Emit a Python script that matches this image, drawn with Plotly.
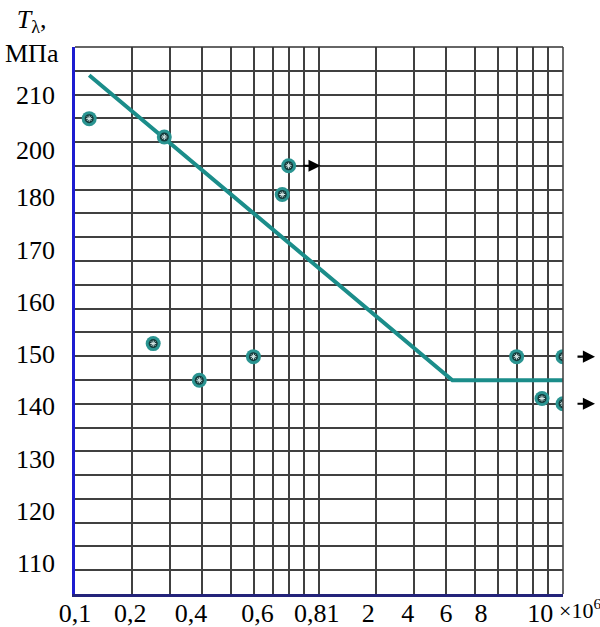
import numpy as np
import plotly.graph_objects as go

# ---------------- data ----------------
# fatigue test points: number of cycles (x10^6) and stress T_lambda (MPa)
N_POINTS = [0.125, 0.285, 0.80, 0.76, 0.256, 0.393, 0.596, 7.0, 10.0, 8.6, 10.0]
T_POINTS = [195.0, 191.5, 186.0, 180.5, 152.0, 145.0, 149.5, 149.5, 149.5, 141.5, 140.5]
RUNOUT = [False, False, True, False, False, False, False, False, True, False, True]

# fatigue curve
N_LINE = [0.125, 4.23, 10.0]
T_LINE = [203.3, 145.0, 145.0]

# grid values of the cycle axis (x10^6)
GRID_N = [0.1, 0.2, 0.3, 0.4, 0.5, 0.6, 0.7, 0.8, 0.9, 1.0,
          2.0, 3.0, 4.0, 5.0, 6.0, 7.0, 8.0, 9.0, 10.0]

X_TICK_TEXT = ["0,1", "0,2", "0,4", "0,6", "0,81", "2", "4", "6", "8", "10"]
Y_TICK_TEXT = ["210", "200", "180", "170", "160", "150", "140", "130", "120", "110"]

# ---------------- axis scale (pseudo-logarithmic, as drawn) ----------------
MANTISSA = [1, 2, 3, 4, 5, 6, 7, 8, 9, 10]
FRAC = [0.0, 0.2325, 0.3895, 0.5185, 0.641, 0.735, 0.81, 0.8755, 0.9395, 1.0]


def to_u(n):
    n = np.asarray(n, dtype=float)
    d = np.floor(np.log10(n / 0.1) + 1e-9)
    d = np.minimum(d, 1)
    m = n / (0.1 * 10 ** d)
    return d + np.interp(m, MANTISSA, FRAC)


# layout-only tick label placements (axis units)
X_LABEL_U = [0.0, 0.2268, 0.4757, 0.7484, 0.9912, 1.2016, 1.3635, 1.5206, 1.6641, 1.9069]
Y_LABEL_V = [199.5, 189.1, 180, 170, 160, 150, 140, 130, 120, 110]
Y_MIN, Y_MAX = 104.13, 208.70
Y_GRID_STEP = (Y_MAX - Y_MIN) / 23

TEAL = "#1b8d8a"
FONT = "Liberation Serif, Times New Roman, serif"
FS = 26

xu = to_u(N_POINTS)
fig = go.Figure()

fig.add_trace(go.Scatter(
    x=to_u(N_LINE), y=T_LINE, mode="lines",
    line=dict(color=TEAL, width=4), hoverinfo="skip", showlegend=False))

fig.add_trace(go.Scatter(
    x=xu, y=T_POINTS, mode="markers",
    marker=dict(size=15, color="#2a9491", line=dict(width=0)),
    showlegend=False))
fig.add_trace(go.Scatter(
    x=xu, y=T_POINTS, mode="markers",
    marker=dict(size=9, color="#143a3a", line=dict(width=0)),
    hoverinfo="skip", showlegend=False))
fig.add_trace(go.Scatter(
    x=xu, y=T_POINTS, mode="markers",
    marker=dict(size=5, symbol="asterisk-open", color="#d8e8e8",
                line=dict(width=1, color="#d8e8e8")),
    hoverinfo="skip", showlegend=False))

# run-out arrows
for u, t, r in zip(xu, T_POINTS, RUNOUT):
    if r:
        fig.add_annotation(x=u, y=t, xref="x", yref="y", text="",
                           showarrow=True, ax=-19, ay=0, xshift=32,
                           arrowhead=2, arrowsize=1.1, arrowwidth=2.2,
                           arrowcolor="black")

GRID_COLOR = "#404040"

fig.update_xaxes(
    range=[0, 2], showgrid=False, zeroline=False, automargin=False,
    tickmode="array", tickvals=X_LABEL_U, ticktext=X_TICK_TEXT,
    ticks="", ticklabelstandoff=-6,
    tickfont=dict(family=FONT, size=FS, color="black"),
    showline=True, linecolor="#23237a", linewidth=2.5,
    minor=dict(tickmode="array", tickvals=list(to_u(GRID_N)), showgrid=True,
               gridcolor=GRID_COLOR, gridwidth=1.5, ticks=""),
)
fig.update_yaxes(
    range=[Y_MIN, Y_MAX], showgrid=False, zeroline=False, automargin=False,
    tickmode="array", tickvals=Y_LABEL_V, ticktext=Y_TICK_TEXT,
    ticks="", ticklabelstandoff=12,
    tickfont=dict(family=FONT, size=FS, color="black"),
    showline=True, linecolor="#1c1cd0", linewidth=2.5,
    minor=dict(tick0=Y_MIN, dtick=Y_GRID_STEP, showgrid=True,
               gridcolor=GRID_COLOR, gridwidth=1.5, ticks=""),
)

# frame (top and right)
fig.add_shape(type="line", xref="paper", yref="paper", x0=0, x1=1, y0=1, y1=1,
              line=dict(color="#333333", width=1.6))
fig.add_shape(type="line", xref="paper", yref="paper", x0=1, x1=1, y0=0, y1=1,
              line=dict(color="#444444", width=1.6))

# axis titles
fig.add_annotation(xref="paper", yref="paper", x=-0.088, y=1.02,
                   xanchor="center", yanchor="middle", align="center",
                   text="<i>T</i><sub>λ</sub>,<br>МПа", showarrow=False,
                   font=dict(family=FONT, size=FS, color="black"))
fig.add_annotation(xref="paper", yref="paper", x=1.034, y=-0.027,
                   xanchor="center", yanchor="middle",
                   text="×10<sup>6</sup>", showarrow=False,
                   font=dict(family=FONT, size=22, color="black"))

fig.update_layout(
    width=600, height=627,
    margin=dict(l=75, r=37, t=47, b=33),
    paper_bgcolor="white", plot_bgcolor="white",
    showlegend=False,
)

fig.write_html("out.html", config={"displayModeBar": False},
               post_script="document.body.style.margin='0';")
